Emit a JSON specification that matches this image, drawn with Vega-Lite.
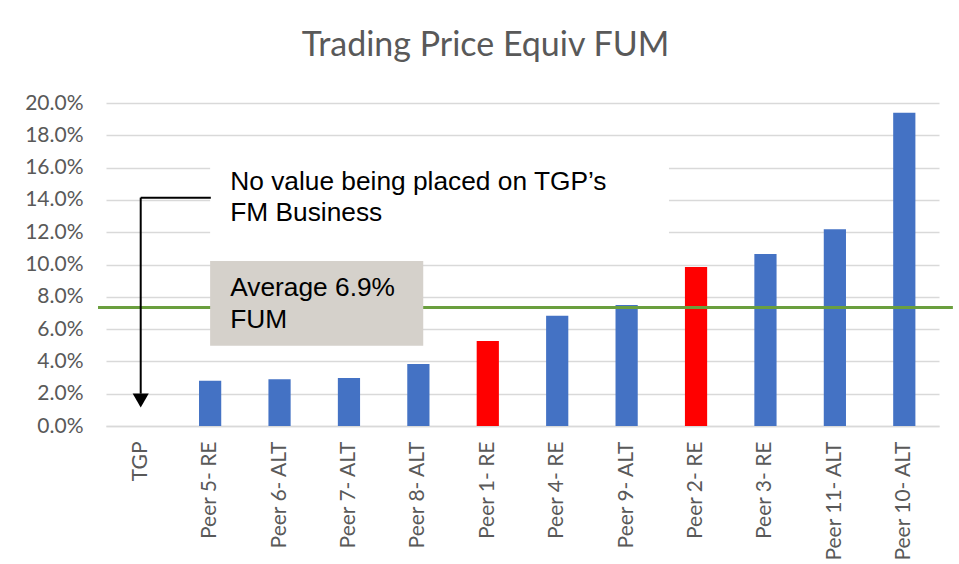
{
  "$schema": "https://vega.github.io/schema/vega-lite/v6.json",
  "width": 833,
  "height": 323,
  "autosize": {"type": "none"},
  "padding": {"left": 106, "top": 103, "right": 20, "bottom": 138},
  "background": "white",
  "title": {"text": "Trading Price Equiv FUM", "font": "Lato", "fontSize": 34, "fontWeight": "normal", "color": "#595959", "anchor": "middle", "dx": -37, "offset": 29},
  "config": {
    "view": {"stroke": null},
    "axis": {"labelFont": "Lato", "labelFontSize": 21, "labelColor": "#595959", "gridColor": "#D9D9D9", "gridWidth": 1.3, "ticks": false, "tickSize": 0, "domain": false}
  },
  "resolve": {"scale": {"x": "independent"}, "axis": {"x": "independent", "y": "independent"}},
  "layer": [
    {
      "data": {"values": [
        {"company": "TGP", "fum": null, "group": "peer"},
        {"company": "Peer 5- RE", "fum": 0.028, "group": "peer"},
        {"company": "Peer 6- ALT", "fum": 0.029, "group": "peer"},
        {"company": "Peer 7- ALT", "fum": 0.0297, "group": "peer"},
        {"company": "Peer 8- ALT", "fum": 0.0384, "group": "peer"},
        {"company": "Peer 1- RE", "fum": 0.0526, "group": "highlight"},
        {"company": "Peer 4- RE", "fum": 0.0683, "group": "peer"},
        {"company": "Peer 9- ALT", "fum": 0.0749, "group": "peer"},
        {"company": "Peer 2- RE", "fum": 0.0984, "group": "highlight"},
        {"company": "Peer 3- RE", "fum": 0.1065, "group": "peer"},
        {"company": "Peer 11- ALT", "fum": 0.1218, "group": "peer"},
        {"company": "Peer 10- ALT", "fum": 0.194, "group": "peer"}
      ]},
      "mark": {"type": "bar"},
      "encoding": {
        "x": {"field": "company", "type": "nominal", "sort": null,
          "scale": {"domain": ["TGP", "Peer 5- RE", "Peer 6- ALT", "Peer 7- ALT", "Peer 8- ALT", "Peer 1- RE", "Peer 4- RE", "Peer 9- ALT", "Peer 2- RE", "Peer 3- RE", "Peer 11- ALT", "Peer 10- ALT"], "paddingInner": 0.68, "paddingOuter": 0.34},
          "axis": {"title": null, "labelAngle": -90, "labelPadding": 15, "domain": true, "domainColor": "#D9D9D9", "domainWidth": 1.3, "grid": false}},
        "y": {"field": "fum", "type": "quantitative", "scale": {"domain": [0, 0.2], "nice": false},
          "axis": {"title": null, "format": ".1%", "values": [0, 0.02, 0.04, 0.06, 0.08, 0.1, 0.12, 0.14, 0.16, 0.18, 0.2], "labelPadding": 23, "grid": true}},
        "color": {"field": "group", "type": "nominal", "scale": {"domain": ["peer", "highlight"], "range": ["#4472C4", "#FF0000"]}, "legend": null}
      }
    },
    {
      "layer": [
        {
          "data": {"values": [{"x1": -0.115, "x2": 12.2, "y": 0.0733}]},
          "mark": {"type": "rule", "color": "#6A9F3E", "strokeWidth": 3, "clip": false},
          "encoding": {
            "x": {"field": "x1", "type": "quantitative", "scale": {"domain": [0, 12], "nice": false, "zero": false}, "axis": null},
            "x2": {"field": "x2"},
            "y": {"field": "y", "type": "quantitative", "axis": null}
          }
        },
        {
          "data": {"values": [{"x1": 1.5, "x2": 8.11, "y1": 0.111, "y2": 0.171}]},
          "mark": {"type": "rect", "fill": "white"},
          "encoding": {
            "x": {"field": "x1", "type": "quantitative", "axis": null},
            "x2": {"field": "x2"},
            "y": {"field": "y1", "type": "quantitative", "axis": null},
            "y2": {"field": "y2"}
          }
        },
        {
          "data": {"values": [{"x1": 1.5, "x2": 4.57, "y1": 0.0497, "y2": 0.1022}]},
          "mark": {"type": "rect", "fill": "#D5D1CB"},
          "encoding": {
            "x": {"field": "x1", "type": "quantitative", "axis": null},
            "x2": {"field": "x2"},
            "y": {"field": "y1", "type": "quantitative", "axis": null},
            "y2": {"field": "y2"}
          }
        },
        {
          "data": {"values": [
            {"x": 1.79, "y": 0.151, "label": "No value being placed on TGP’s"},
            {"x": 1.79, "y": 0.132, "label": "FM Business"},
            {"x": 1.79, "y": 0.0854, "label": "Average 6.9%"},
            {"x": 1.79, "y": 0.0656, "label": "FUM"}
          ]},
          "mark": {"type": "text", "align": "left", "baseline": "middle", "font": "Liberation Sans", "fontSize": 26.3, "color": "black"},
          "encoding": {
            "x": {"field": "x", "type": "quantitative", "axis": null},
            "y": {"field": "y", "type": "quantitative", "axis": null},
            "text": {"field": "label"}
          }
        },
        {
          "data": {"values": [
            {"x1": 0.5, "x2": 1.51, "y1": 0.1414, "y2": 0.1414},
            {"x1": 0.5, "x2": 0.5, "y1": 0.1414, "y2": 0.02}
          ]},
          "mark": {"type": "rule", "color": "black", "strokeWidth": 2, "clip": false},
          "encoding": {
            "x": {"field": "x1", "type": "quantitative", "axis": null},
            "x2": {"field": "x2"},
            "y": {"field": "y1", "type": "quantitative", "axis": null},
            "y2": {"field": "y2"}
          }
        },
        {
          "data": {"values": [{"x": 0.5, "y": 0.0158}]},
          "mark": {"type": "point", "shape": "triangle-down", "filled": true, "color": "black", "opacity": 1, "size": 260},
          "encoding": {
            "x": {"field": "x", "type": "quantitative", "axis": null},
            "y": {"field": "y", "type": "quantitative", "axis": null}
          }
        }
      ]
    }
  ]
}
